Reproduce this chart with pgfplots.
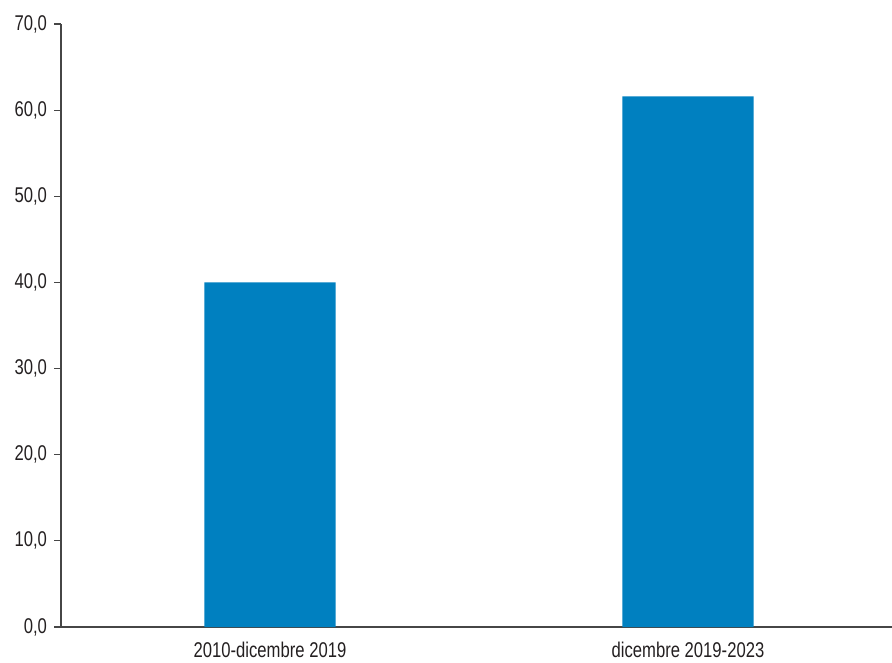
\documentclass[border=0pt]{standalone}
\usepackage{pgfplots}
\pgfplotsset{compat=1.18}
\usepackage{fontspec}
\setmainfont{Liberation Sans}[FakeStretch=0.78]
\definecolor{barblue}{RGB}{0,128,192}
\definecolor{axgray}{RGB}{70,70,70}
\definecolor{txt}{RGB}{35,31,32}
\begin{document}
\begin{tikzpicture}[x=0.75pt,y=0.75pt]
\useasboundingbox (-61,-35) rectangle (831,627);
\begin{axis}[
    at={(0,0)}, anchor=south west,
    scale only axis,
    width=627pt, height=452.25pt,
    xmin=-0.5, xmax=1.5,
    ymin=0, ymax=70,
    ytick={0,10,...,70},
    axis x line*=bottom,
    axis y line*=left,
    axis line style={axgray, line width=0.9pt},
    y axis line style={-},
    x axis line style={-},
    xtick={0,1},
    xticklabels={2010-dicembre 2019, dicembre 2019-2023},
    x tick style={draw=none},
    extra x ticks={-0.5,0.5,1.5},
    extra x tick labels={},
    extra x tick style={tick style={draw=axgray, line width=0.9pt}, major tick length=5pt, tick align=outside},
    y tick style={axgray, line width=0.9pt},
    major tick length=5pt,
    tick align=outside,
    yticklabel style={/pgf/number format/fixed, /pgf/number format/fixed zerofill,
        /pgf/number format/precision=1, /pgf/number format/use comma},
    /pgf/number format/assume math mode=true,
    ticklabel style={font=\fontsize{16}{19}\selectfont, text=txt},
    xticklabel style={yshift=-3pt},
    yticklabel style={xshift=-2pt},
]
\addplot[ybar, bar width=0.314, fill=barblue, draw=none] coordinates {
    (0, 40.0)
    (1, 61.6)
};
\end{axis}
\end{tikzpicture}
\end{document}
